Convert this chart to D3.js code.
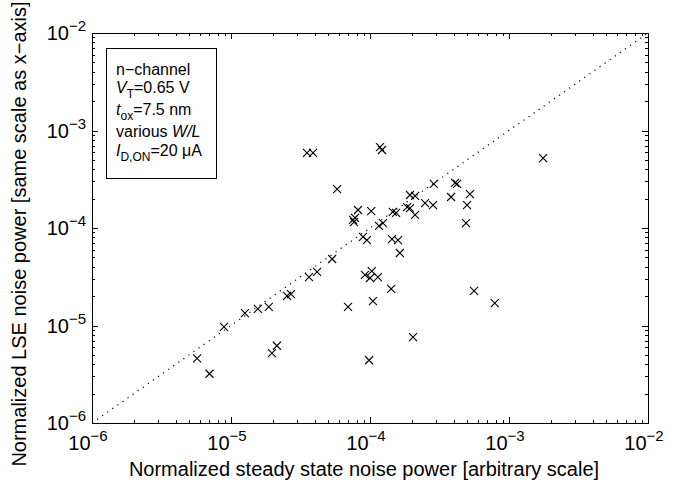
<!DOCTYPE html>
<html>
<head>
<meta charset="utf-8">
<script src="https://cdn.jsdelivr.net/npm/d3@7"></script>
<style>
  body { margin: 0; background: #fff; }
  text { font-family: "Liberation Sans", Arial, sans-serif; fill: #000; }
</style>
</head>
<body>
<div id="chart"></div>
<script>
// steady state noise power (x) vs LSE noise power (y)
const steadyNoise = [
  5.7e-6, 7.0e-6, 8.9e-6, 1.26e-5, 1.56e-5, 1.87e-5, 2.53e-5, 2.70e-5, 1.97e-5, 2.14e-5,
  3.64e-5, 4.16e-5, 5.34e-5, 3.52e-5, 3.89e-5, 5.80e-5, 1.18e-4, 1.22e-4, 8.2e-5, 1.02e-4,
  7.55e-5, 7.8e-5, 7.67e-5, 1.16e-4, 1.24e-4, 8.9e-5, 9.5e-5, 1.46e-4, 1.54e-4, 1.85e-4,
  1.94e-4, 2.11e-4, 1.94e-4, 2.11e-4, 2.49e-4, 2.84e-4, 2.88e-4, 4.09e-4, 4.23e-4, 3.83e-4,
  5.24e-4, 4.99e-4, 4.91e-4, 1.64e-4, 1.42e-4, 9.2e-5, 1.03e-4, 1.0e-4, 1.14e-4, 1.05e-4,
  6.95e-5, 5.6e-4, 7.9e-4, 2.04e-4, 9.84e-5, 1.76e-3, 1.59e-4, 1.44e-4
];
const lseNoise = [
  4.6e-6, 3.2e-6, 9.7e-6, 1.34e-5, 1.48e-5, 1.55e-5, 2.01e-5, 2.10e-5, 5.2e-6, 6.2e-6,
  3.14e-5, 3.54e-5, 4.81e-5, 5.88e-4, 5.88e-4, 2.51e-4, 6.77e-4, 6.31e-4, 1.53e-4, 1.49e-4,
  1.21e-4, 1.27e-4, 1.15e-4, 1.05e-4, 1.12e-4, 8.1e-5, 7.5e-5, 1.46e-4, 1.43e-4, 1.64e-4,
  1.60e-4, 1.36e-4, 2.18e-4, 2.13e-4, 1.80e-4, 1.72e-4, 2.83e-4, 2.90e-4, 2.83e-4, 2.08e-4,
  2.23e-4, 1.72e-4, 1.12e-4, 5.54e-5, 2.37e-5, 3.30e-5, 3.62e-5, 3.07e-5, 3.14e-5, 1.78e-5,
  1.55e-5, 2.26e-5, 1.70e-5, 7.6e-6, 4.4e-6, 5.22e-4, 7.5e-5, 7.7e-5
];
const decadeExps = [-6, -5, -4, -3, -2];
const xLabel = "Normalized steady state noise power [arbitrary scale]";
const yLabel = "Normalized LSE noise power [same scale as x\u2212axis]";

const width = 689, height = 495;
const margin = { left: 92, right: 41, top: 33, bottom: 72 };

const svg = d3.select("#chart").append("svg")
  .attr("width", width)
  .attr("height", height);

const x = d3.scaleLog().domain([1e-6, 1e-2]).range([margin.left, width - margin.right]);
const y = d3.scaleLog().domain([1e-6, 1e-2]).range([height - margin.bottom, margin.top]);

const x0 = x.range()[0], x1 = x.range()[1];
const y0 = y.range()[0], y1 = y.range()[1];

// ticks: majors at decades, minors at 2..9
const tickVals = [];
decadeExps.forEach((e, i) => {
  tickVals.push({ v: Math.pow(10, e), major: true });
  if (i < decadeExps.length - 1) {
    for (let m = 2; m <= 9; m++) tickVals.push({ v: m * Math.pow(10, e), major: false });
  }
});

const ticks = svg.append("g").attr("stroke", "#000").attr("stroke-width", 1);
tickVals.forEach(t => {
  const len = t.major ? 6 : 3;
  const px = Math.round(x(t.v)) + 0.5;
  const py = Math.round(y(t.v)) + 0.5;
  ticks.append("line").attr("x1", px).attr("x2", px).attr("y1", y0).attr("y2", y0 - len);
  ticks.append("line").attr("x1", px).attr("x2", px).attr("y1", y1).attr("y2", y1 + len);
  ticks.append("line").attr("y1", py).attr("y2", py).attr("x1", x0).attr("x2", x0 + len);
  ticks.append("line").attr("y1", py).attr("y2", py).attr("x1", x1).attr("x2", x1 - len);
});

// tick labels 10^e
decadeExps.forEach(e => {
  const tx = svg.append("text")
    .attr("x", x(Math.pow(10, e)) - 4)
    .attr("y", y0 + 27)
    .attr("text-anchor", "middle")
    .attr("font-size", 20);
  tx.append("tspan").text("10");
  tx.append("tspan").attr("dy", -9).attr("font-size", 15).text("\u2212" + (-e));

  const ty = svg.append("text")
    .attr("x", x0 - 6)
    .attr("y", y(Math.pow(10, e)) + 7)
    .attr("text-anchor", "end")
    .attr("font-size", 20);
  ty.append("tspan").text("10");
  ty.append("tspan").attr("dy", -9).attr("font-size", 15).text("\u2212" + (-e));
});

// plot frame
svg.append("rect")
  .attr("x", x0 + 0.5).attr("y", y1 + 0.5)
  .attr("width", x1 - x0).attr("height", y0 - y1)
  .attr("fill", "none").attr("stroke", "#000").attr("stroke-width", 1);

// diagonal y = x
svg.append("line")
  .attr("x1", x(1e-6)).attr("y1", y(1e-6))
  .attr("x2", x(1e-2)).attr("y2", y(1e-2))
  .attr("stroke", "#000").attr("stroke-width", 1.2)
  .attr("stroke-dasharray", "1.2,5");

// x markers
const s = 4;
const marks = svg.append("g").attr("stroke", "#000").attr("stroke-width", 1.1);
steadyNoise.forEach((v, i) => {
  const cx = x(v), cy = y(lseNoise[i]);
  marks.append("path")
    .attr("d", `M${cx - s},${cy - s}L${cx + s},${cy + s}M${cx - s},${cy + s}L${cx + s},${cy - s}`);
});

// annotation box
svg.append("rect")
  .attr("x", 106.5).attr("y", 48.5).attr("width", 110).attr("height", 130)
  .attr("fill", "#fff").attr("stroke", "#000").attr("stroke-width", 1);

const ann = svg.append("g").attr("font-size", 16);
const lx = 116;
ann.append("text").attr("x", lx).attr("y", 75).text("n\u2212channel");

const l2 = ann.append("text").attr("x", lx).attr("y", 93);
l2.append("tspan").attr("font-style", "italic").text("V");
l2.append("tspan").attr("dy", 5).attr("font-size", 12).text("T");
l2.append("tspan").attr("dy", -5).text("=0.65 V");

const l3 = ann.append("text").attr("x", lx).attr("y", 115);
l3.append("tspan").attr("font-style", "italic").text("t");
l3.append("tspan").attr("dy", 5).attr("font-size", 12).text("ox");
l3.append("tspan").attr("dy", -5).text("=7.5 nm");

const l4 = ann.append("text").attr("x", lx).attr("y", 137);
l4.append("tspan").text("various ");
l4.append("tspan").attr("font-style", "italic").text("W/L");

const l5 = ann.append("text").attr("x", lx).attr("y", 156);
l5.append("tspan").attr("font-style", "italic").text("I");
l5.append("tspan").attr("dy", 5).attr("font-size", 12).text("D,ON");
l5.append("tspan").attr("dy", -5).text("=20 \u03bcA");

// axis titles
svg.append("text")
  .attr("x", (x0 + x1) / 2 - 6).attr("y", 476)
  .attr("text-anchor", "middle").attr("font-size", 20)
  .text(xLabel);

svg.append("text")
  .attr("transform", `translate(26,${(y0 + y1) / 2 + 6}) rotate(-90)`)
  .attr("text-anchor", "middle").attr("font-size", 20)
  .text(yLabel);
</script>
</body>
</html>
